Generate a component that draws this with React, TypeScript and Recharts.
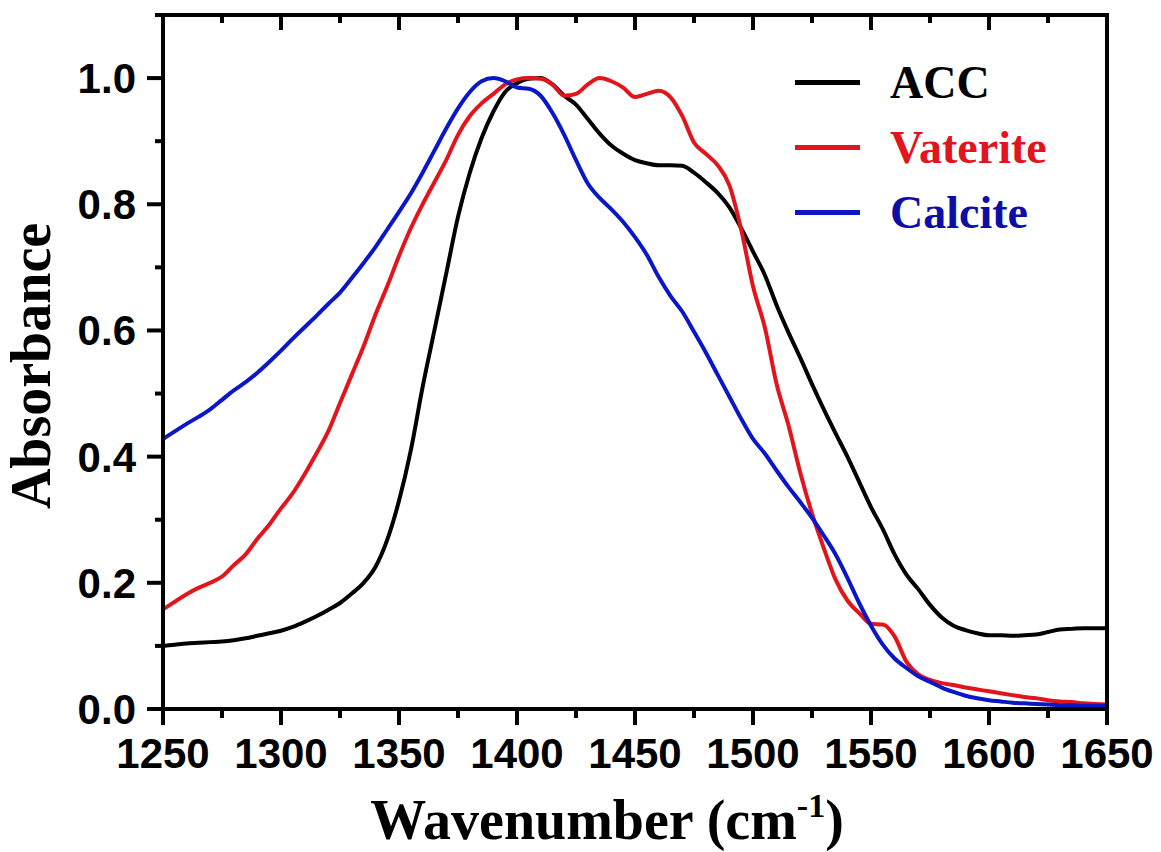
import React from "react";
import { LineChart, Line, XAxis, YAxis, Legend } from "recharts";

const wavenumbers = [
  1250, 1255, 1260, 1265, 1270, 1275, 1280, 1285, 1290, 1295,
  1300, 1305, 1310, 1315, 1320, 1325, 1330, 1335, 1340, 1345,
  1350, 1355, 1360, 1365, 1370, 1375, 1380, 1385, 1390, 1395,
  1400, 1405, 1410, 1415, 1420, 1425, 1430, 1435, 1440, 1445,
  1450, 1455, 1460, 1465, 1470, 1475, 1480, 1485, 1490, 1495,
  1500, 1505, 1510, 1515, 1520, 1525, 1530, 1535, 1540, 1545,
  1550, 1555, 1560, 1565, 1570, 1575, 1580, 1585, 1590, 1595,
  1600, 1605, 1610, 1615, 1620, 1625, 1630, 1635, 1640, 1645,
  1650,
];

const acc = [
  0.100, 0.102, 0.104, 0.105, 0.106, 0.107, 0.109, 0.112, 0.116, 0.120,
  0.124, 0.130, 0.138, 0.147, 0.157, 0.168, 0.183, 0.200, 0.225, 0.268,
  0.330, 0.410, 0.510, 0.600, 0.690, 0.780, 0.850, 0.905, 0.947, 0.978,
  0.992, 0.999, 1.000, 0.990, 0.972, 0.958, 0.935, 0.912, 0.893, 0.880,
  0.870, 0.865, 0.862, 0.862, 0.861, 0.850, 0.835, 0.818, 0.795, 0.762,
  0.725, 0.688, 0.640, 0.597, 0.557, 0.515, 0.475, 0.437, 0.400, 0.360,
  0.320, 0.285, 0.245, 0.213, 0.190, 0.165, 0.145, 0.132, 0.125, 0.120,
  0.117, 0.117, 0.116, 0.117, 0.118, 0.122, 0.126, 0.127, 0.128, 0.128,
  0.128,
];

const vaterite = [
  0.158, 0.170, 0.182, 0.192, 0.200, 0.210, 0.228, 0.245, 0.270, 0.292,
  0.318, 0.342, 0.372, 0.405, 0.440, 0.485, 0.530, 0.575, 0.625, 0.670,
  0.718, 0.762, 0.800, 0.835, 0.870, 0.910, 0.940, 0.960, 0.975, 0.990,
  0.998, 1.000, 0.999, 0.990, 0.972, 0.975, 0.990, 1.000, 0.995, 0.985,
  0.970, 0.975, 0.980, 0.970, 0.940, 0.898, 0.880, 0.862, 0.830, 0.760,
  0.670, 0.605, 0.515, 0.450, 0.375, 0.310, 0.255, 0.205, 0.172, 0.152,
  0.135, 0.134, 0.115, 0.075, 0.055, 0.046, 0.041, 0.038, 0.034, 0.031,
  0.028, 0.025, 0.022, 0.019, 0.017, 0.014, 0.012, 0.011, 0.009, 0.008,
  0.007,
];

const calcite = [
  0.428, 0.440, 0.452, 0.463, 0.475, 0.490, 0.505, 0.518, 0.533, 0.550,
  0.568, 0.587, 0.605, 0.623, 0.642, 0.660, 0.683, 0.707, 0.732, 0.760,
  0.788, 0.817, 0.850, 0.885, 0.920, 0.952, 0.978, 0.995, 1.000, 0.995,
  0.985, 0.983, 0.972, 0.945, 0.910, 0.870, 0.833, 0.810, 0.792, 0.772,
  0.748, 0.720, 0.685, 0.655, 0.630, 0.598, 0.565, 0.530, 0.495, 0.460,
  0.428, 0.405, 0.378, 0.352, 0.328, 0.303, 0.275, 0.245, 0.208, 0.168,
  0.132, 0.102, 0.080, 0.065, 0.052, 0.043, 0.034, 0.027, 0.021, 0.017,
  0.014, 0.012, 0.010, 0.009, 0.008, 0.007, 0.006, 0.006, 0.005, 0.005,
  0.005,
];

const xTicks = [
  1250, 1275, 1300, 1325, 1350, 1375, 1400, 1425, 1450, 1475,
  1500, 1525, 1550, 1575, 1600, 1625, 1650,
];
const yTicks = [0, 0.1, 0.2, 0.3, 0.4, 0.5, 0.6, 0.7, 0.8, 0.9, 1.0, 1.1];
const legendOrder = ["ACC", "Vaterite", "Calcite"];

const data = wavenumbers.map((w, i) => ({
  w,
  acc: acc[i],
  vaterite: vaterite[i],
  calcite: calcite[i],
}));

const BLACK = "#000000";
const RED = "#e2141c";
const BLUE = "#0a17c8";
const legendText: Record<string, string> = {
  ACC: "#000000",
  Vaterite: "#e2141c",
  Calcite: "#0c0ea6",
};

const sansFont = "'Liberation Sans', Arial, sans-serif";
const serifFont = "'Liberation Serif', 'Times New Roman', serif";

const isMajorX = (v: number) => v % 50 === 0;
const isMajorY = (v: number) => Math.round(v * 10) % 2 === 0 && v < 1.05;

// bottom axis: outward ticks + labels
const BottomTick = (props: any) => {
  const { x, y, payload } = props;
  const major = isMajorX(payload.value);
  return (
    <g>
      <line x1={x} x2={x} y1={y} y2={y + (major ? 16 : 9)} stroke="#000" strokeWidth={4} />
      {major && (
        <text
          x={x}
          y={y + 59}
          textAnchor="middle"
          fontFamily={sansFont}
          fontWeight="bold"
          fontSize={42}
          fill="#000"
        >
          {payload.value}
        </text>
      )}
    </g>
  );
};

const TopTick = (props: any) => {
  const { x, y, payload } = props;
  const major = isMajorX(payload.value);
  return <line x1={x} x2={x} y1={y} y2={y + (major ? 15 : 8)} stroke="#000" strokeWidth={4} />;
};

const LeftTick = (props: any) => {
  const { x, y, payload } = props;
  const major = isMajorY(payload.value);
  return (
    <g>
      <line x1={x} x2={x - (major ? 16 : 8)} y1={y} y2={y} stroke="#000" strokeWidth={4} />
      {major && (
        <text
          x={x - 27}
          y={y + 15}
          textAnchor="end"
          fontFamily={sansFont}
          fontWeight="bold"
          fontSize={42}
          fill="#000"
        >
          {payload.value.toFixed(1)}
        </text>
      )}
    </g>
  );
};

const RightTick = (props: any) => {
  const { x, y, payload } = props;
  const major = isMajorY(payload.value);
  return <line x1={x} x2={x - (major ? 15 : 8)} y1={y} y2={y} stroke="#000" strokeWidth={4} />;
};

const XLabel = (props: any) => {
  const { x, y, width } = props.viewBox;
  return (
    <text
      x={x + width / 2 - 28}
      y={y + 130}
      textAnchor="middle"
      fontFamily={serifFont}
      fontWeight="bold"
      fontSize={56}
      fill="#000"
    >
      Wavenumber (cm
      <tspan fontSize={34} dy={-22}>-1</tspan>
      <tspan dy={22}>)</tspan>
    </text>
  );
};

const YLabel = (props: any) => {
  const { y, height } = props.viewBox;
  const cy = y + height / 2 + 4;
  return (
    <text
      x={50}
      y={cy}
      transform={`rotate(-90 50 ${cy})`}
      textAnchor="middle"
      fontFamily={serifFont}
      fontWeight="bold"
      fontSize={56}
      fill="#000"
    >
      Absorbance
    </text>
  );
};

const LegendBox = (props: any) => {
  const items = [...(props.payload || [])].sort(
    (a: any, b: any) => legendOrder.indexOf(a.value) - legendOrder.indexOf(b.value)
  );
  return (
    <div>
      {items.map((item: any) => (
        <div
          key={item.value}
          style={{ display: "flex", alignItems: "center", height: 65 }}
        >
          <div style={{ width: 65, height: 5, background: item.color }} />
          <span
            style={{
              marginLeft: 30,
              fontFamily: serifFont,
              fontWeight: "bold",
              fontSize: 46,
              lineHeight: "65px",
              color: legendText[item.value],
            }}
          >
            {item.value}
          </span>
        </div>
      ))}
    </div>
  );
};

export default function App() {
  return (
    <div style={{ position: "absolute", left: 0, top: 0, background: "#fff" }}>
      <LineChart
        width={1161}
        height={852}
        data={data}
        margin={{ top: 14, right: 53, bottom: 0, left: 0 }}
      >
        <XAxis
          dataKey="w"
          type="number"
          domain={[1250, 1650]}
          ticks={xTicks}
          interval={0}
          height={143}
          tickSize={0}
          tickMargin={0}
          tickLine={false}
          tick={<BottomTick />}
          axisLine={{ stroke: "#000", strokeWidth: 4, strokeLinecap: "square" }}
          label={<XLabel />}
        />
        <XAxis
          xAxisId="top"
          orientation="top"
          dataKey="w"
          type="number"
          domain={[1250, 1650]}
          ticks={xTicks}
          interval={0}
          height={1}
          tickSize={0}
          tickMargin={0}
          tickLine={false}
          tick={<TopTick />}
          axisLine={{ stroke: "#000", strokeWidth: 4, strokeLinecap: "square" }}
        />
        <YAxis
          type="number"
          domain={[0, 1.1]}
          ticks={yTicks}
          interval={0}
          width={163}
          tickSize={0}
          tickMargin={0}
          tickLine={false}
          tick={<LeftTick />}
          axisLine={{ stroke: "#000", strokeWidth: 4, strokeLinecap: "square" }}
          label={<YLabel />}
        />
        <YAxis
          yAxisId="right"
          orientation="right"
          type="number"
          domain={[0, 1.1]}
          ticks={yTicks}
          interval={0}
          width={1}
          tickSize={0}
          tickMargin={0}
          tickLine={false}
          tick={<RightTick />}
          axisLine={{ stroke: "#000", strokeWidth: 4, strokeLinecap: "square" }}
        />
        <Legend
          layout="vertical"
          align="center"
          verticalAlign="middle"
          content={<LegendBox />}
          wrapperStyle={{ left: 795, top: 50, width: 300 }}
        />
        <Line
          dataKey="acc"
          name="ACC"
          type="monotone"
          stroke={BLACK}
          strokeWidth={4}
          dot={false}
          isAnimationActive={false}
        />
        <Line
          dataKey="vaterite"
          name="Vaterite"
          type="monotone"
          stroke={RED}
          strokeWidth={4}
          dot={false}
          isAnimationActive={false}
        />
        <Line
          dataKey="calcite"
          name="Calcite"
          type="monotone"
          stroke={BLUE}
          strokeWidth={4}
          dot={false}
          isAnimationActive={false}
        />
      </LineChart>
    </div>
  );
}
